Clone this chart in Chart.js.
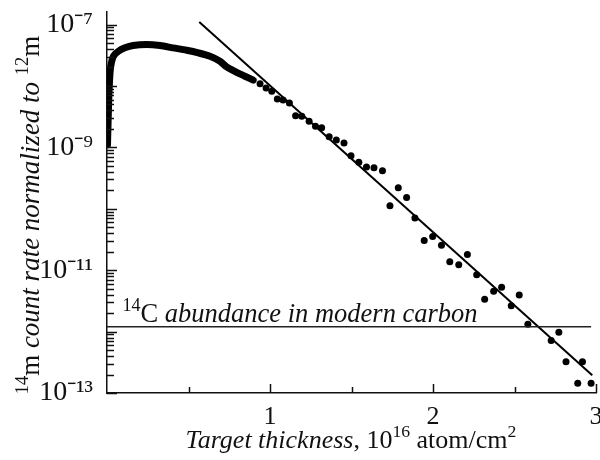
<!DOCTYPE html>
<html><head><meta charset="utf-8">
<script src="https://cdn.jsdelivr.net/npm/chart.js@4.4.0/dist/chart.umd.min.js"></script>
<style>html,body{margin:0;padding:0;background:#fff}</style>
</head><body>
<canvas id="c" width="600" height="460" style="width:600px;height:460px"></canvas>
<script>
// Dense measured curve (thin targets)
const curveX = [0.003,0.010,0.016,0.023,0.039,0.070,0.110,0.160,0.243,0.325,0.405,0.489,0.560,0.632,0.693,0.734,0.795,0.846,0.897];
const curveY = [1.1e-9,5.3e-9,1.27e-8,2.09e-8,3.04e-8,3.67e-8,4.17e-8,4.55e-8,4.72e-8,4.55e-8,4.17e-8,3.81e-8,3.46e-8,3.04e-8,2.52e-8,2.04e-8,1.67e-8,1.44e-8,1.24e-8];
// Individual measured points
const dotX = [0.939,0.976,1.011,1.045,1.080,1.119,1.157,1.195,1.240,1.279,1.317,1.363,1.407,1.454,1.497,1.545,1.592,1.638,1.690,1.787,1.736,1.838,1.889,1.946,1.998,2.052,2.103,2.158,2.211,2.268,2.317,2.372,2.421,2.480,2.529,2.582,2.725,2.772,2.816,2.917,2.888,2.970];
const dotY = [1.09e-8,9.3e-9,8.2e-9,6.15e-9,5.88e-9,5.28e-9,3.28e-9,3.2e-9,2.67e-9,2.2e-9,2.09e-9,1.49e-9,1.32e-9,1.18e-9,7.31e-10,5.73e-10,4.8e-10,4.66e-10,4.16e-10,2.2e-10,1.12e-10,1.53e-10,7.05e-11,3.04e-11,3.53e-11,2.54e-11,1.37e-11,1.22e-11,1.8e-11,8.39e-12,3.37e-12,4.52e-12,5.25e-12,2.64e-12,3.96e-12,1.32e-12,7.13e-13,9.77e-13,3.24e-13,3.24e-13,1.44e-13,1.44e-13];
// Exponential fit line
const fitX = [0.566, 2.977];
const fitY = [1.1e-7, 1.95e-13];
// 14C abundance in modern carbon
const refX = [0, 2.97];
const refY = [1.2e-12, 1.2e-12];
// Tick labels
const xTickValues = [1, 2, 3];
const yTickExps = [-7, -9, -11, -13];
const yDecades = [-13, -12, -11, -10, -9, -8, -7];
const yMantissas = [1, 2, 3, 4, 5, 6, 7, 8, 9];
const supMap = {'-':'\u207B','0':'\u2070','1':'\u00B9','2':'\u00B2','3':'\u00B3','4':'\u2074','5':'\u2075','6':'\u2076','7':'\u2077','8':'\u2078','9':'\u2079'};
const toSup = s => String(s).split('').map(c => supMap[c] || c).join('');

const FONT = '"Liberation Serif", "Times New Roman", serif';
const pts = (xs, ys) => xs.map((x, i) => ({x, y: ys[i]}));

function drawRich(ctx, segs, x, y, base) {
  let cx = x;
  for (const s of segs) {
    const size = s.sup ? base * 0.68 : base;
    ctx.font = (s.it ? 'italic ' : '') + size + 'px ' + FONT;
    ctx.fillText(s.t, cx, y + (s.sup ? -base * 0.42 : 0));
    cx += ctx.measureText(s.t).width;
  }
}
function measureRich(ctx, segs, base) {
  let w = 0;
  for (const s of segs) {
    const size = s.sup ? base * 0.68 : base;
    ctx.font = (s.it ? 'italic ' : '') + size + 'px ' + FONT;
    w += ctx.measureText(s.t).width;
  }
  return w;
}

const extras = {
  id: 'extras',
  afterDraw(chart) {
    const ctx = chart.ctx;
    const a = chart.chartArea;
    const xs_ = chart.scales.x, ys_ = chart.scales.y;
    ctx.save();
    ctx.strokeStyle = '#111';
    ctx.lineWidth = 1.5;
    for (let i = 0; i < yDecades.length; i++) {
      for (let j = 0; j < yMantissas.length; j++) {
        const m = yMantissas[j];
        const v = m * Math.pow(10, yDecades[i]);
        const p = ys_.getPixelForValue(v);
        if (!isFinite(p) || p < a.top - 0.5) continue;
        const len = m === 1 ? 10 : 7;
        const py = Math.round(p) + 0.5;
        ctx.beginPath();
        ctx.moveTo(a.left, py); ctx.lineTo(a.left + len, py);
        ctx.stroke();
      }
    }
    for (const t of xs_.ticks) {
      if (t.value <= 0) continue;
      const len = Math.abs(t.value - Math.round(t.value)) < 1e-6 ? 9 : 6;
      const px = Math.round(xs_.getPixelForValue(t.value)) + 0.5;
      ctx.beginPath();
      ctx.moveTo(px, a.bottom); ctx.lineTo(px, a.bottom - len);
      ctx.stroke();
    }
    ctx.fillStyle = '#111';
    ctx.textBaseline = 'alphabetic';
    drawRich(ctx, [{t:'14',sup:1},{t:'C '},{t:'abundance in modern carbon',it:1}],
      xs_.getPixelForValue(0.095), ys_.getPixelForValue(1.2e-12) - 5, 26.5);
    const xt = [{t:'Target thickness',it:1},{t:', 10'},{t:'16',sup:1},{t:' atom/cm'},{t:'2',sup:1}];
    const wx = measureRich(ctx, xt, 26);
    drawRich(ctx, xt, 351 - wx / 2, 448, 26);
    const yt = [{t:'14',sup:1},{t:'m'},{t:' count rate normalized to ',it:1},{t:'12',sup:1},{t:'m'}];
    const wy = measureRich(ctx, yt, 27);
    ctx.translate(39, 215);
    ctx.rotate(-Math.PI / 2);
    drawRich(ctx, yt, -wy / 2, 0, 27);
    ctx.restore();
  }
};

new Chart(document.getElementById('c'), {
  type: 'scatter',
  data: {
    datasets: [
      {data: pts(refX, refY), showLine: true, borderColor: '#222', borderWidth: 1.4, pointRadius: 0, fill: false},
      {data: pts(fitX, fitY), showLine: true, borderColor: '#000', borderWidth: 2, pointRadius: 0, fill: false},
      {data: pts(curveX, curveY), showLine: true, borderColor: '#000', borderWidth: 7, tension: 0.3, pointRadius: 0, fill: false, borderCapStyle: 'round', borderJoinStyle: 'round'},
      {data: pts(dotX, dotY), showLine: false, backgroundColor: '#000', borderColor: '#000', pointRadius: 3.5, borderWidth: 0}
    ]
  },
  options: {
    responsive: false,
    animation: false,
    devicePixelRatio: 1,
    layout: {padding: {top: 12, right: 3, left: 0, bottom: 0}},
    plugins: {legend: {display: false}, tooltip: {enabled: false}},
    scales: {
      x: {
        type: 'linear', min: 0, max: 3,
        grid: {display: false},
        border: {display: true, color: '#111', width: 1.5},
        afterFit(s) { s.height = 67; s.paddingRight = 0; s.paddingLeft = 0; },
        ticks: {
          stepSize: 0.5, autoSkip: false, maxRotation: 0, padding: 1,
          color: '#111', font: {family: FONT, size: 26},
          callback: v => xTickValues.includes(v) ? String(v) : ''
        }
      },
      y: {
        type: 'logarithmic', min: 1e-13, max: 1.6e-7,
        grid: {display: false},
        border: {display: true, color: '#111', width: 1.5},
        afterFit(s) { s.width = 107; s.paddingTop = 0; s.paddingBottom = 0; },
        ticks: {
          autoSkip: false, padding: 6,
          color: '#111', font: {family: FONT, size: 28},
          callback: v => {
            const e = Math.log10(v);
            const r = Math.round(e);
            if (Math.abs(e - r) < 1e-6 && yTickExps.includes(r)) return '10' + toSup('-' + Math.abs(r));
            return '';
          }
        }
      }
    }
  },
  plugins: [extras]
});
</script>
</body></html>
